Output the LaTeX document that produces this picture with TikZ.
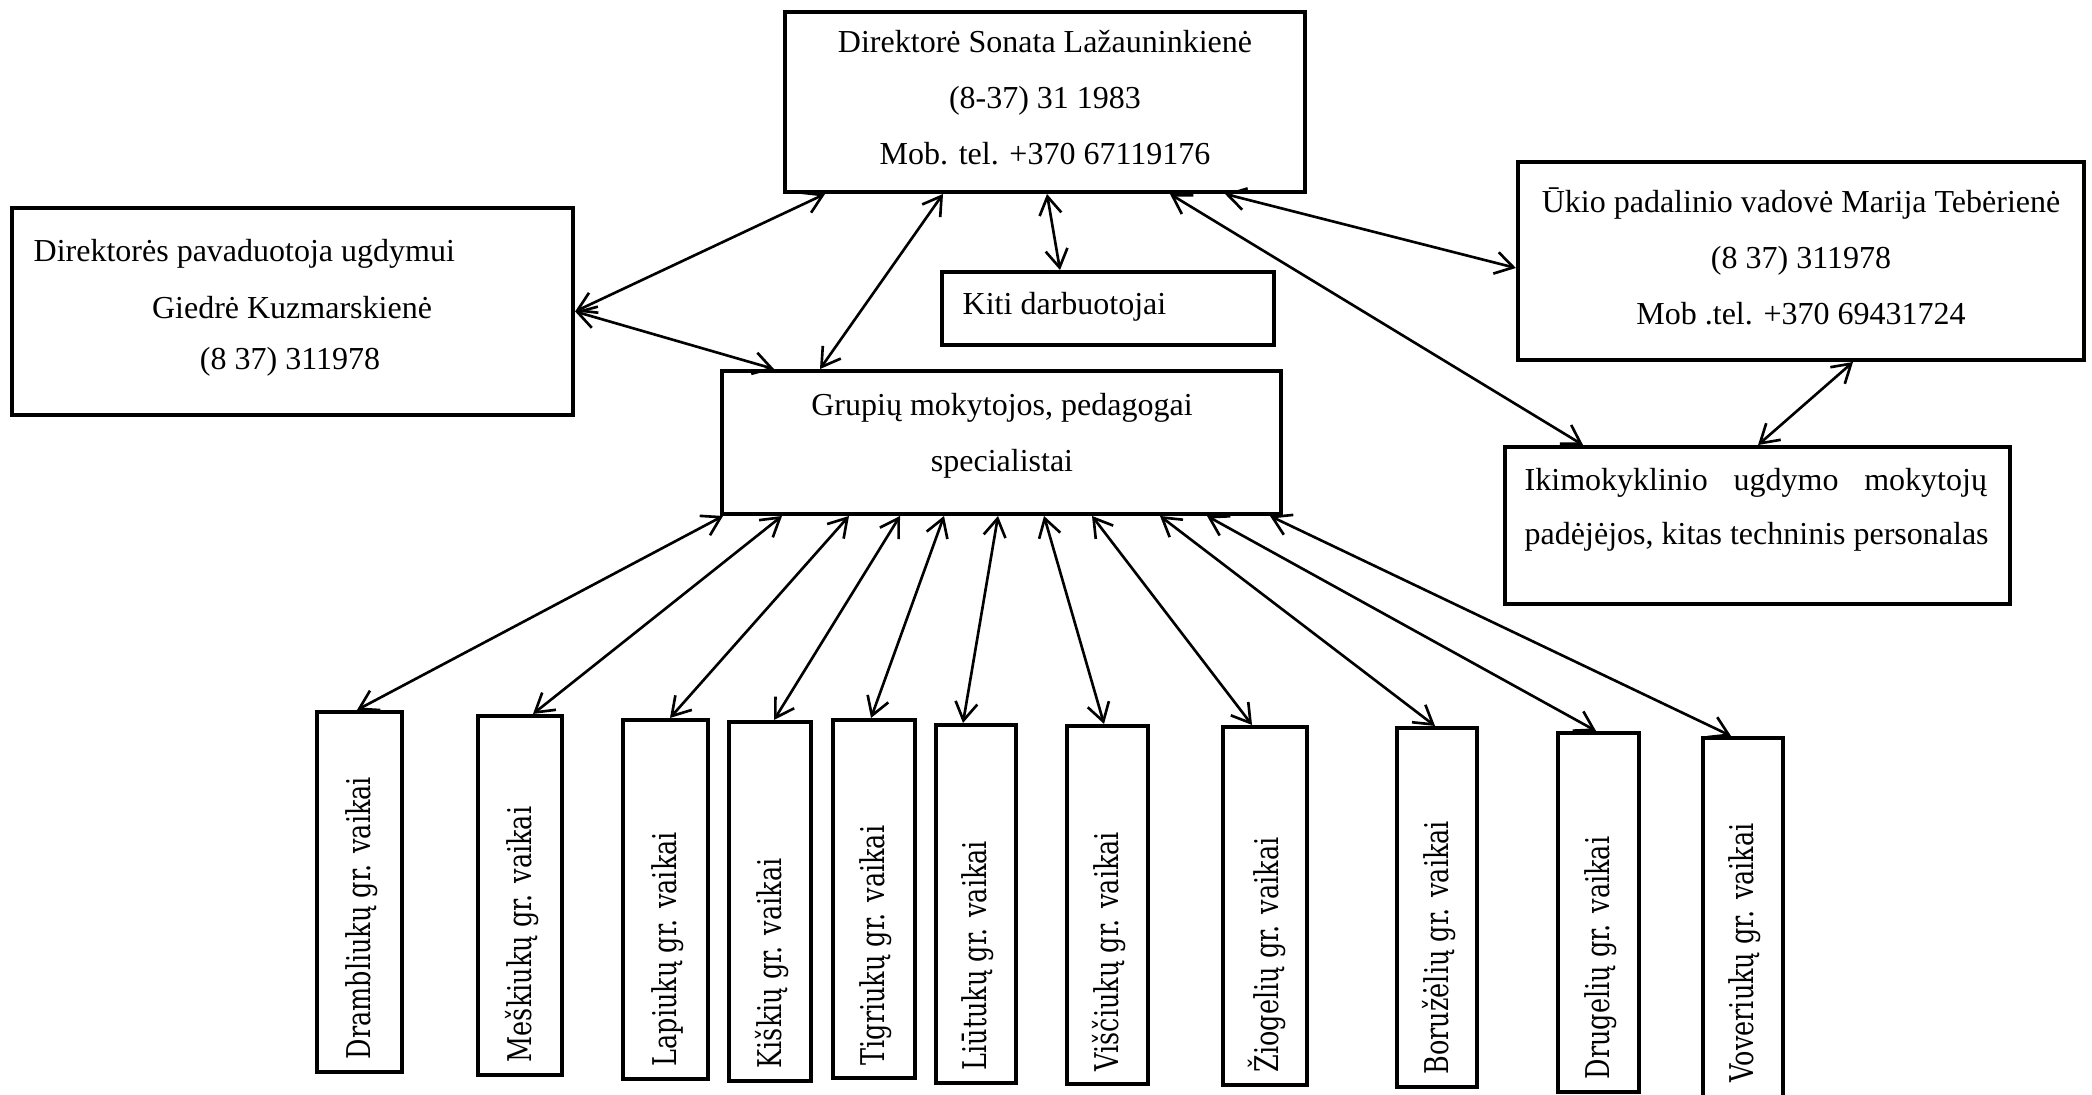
\documentclass[tikz,border=0pt]{standalone}
\usepackage{fontspec}
\setmainfont{Liberation Serif}
\newfontfamily\grfont[FakeStretch=0.78]{DejaVu Serif}
\usetikzlibrary{arrows.meta}
\begin{document}
\begin{tikzpicture}[x=0.01cm,y=-0.01cm,
  box/.style={draw,line width=1.1pt,inner sep=0pt},
  gbox/.style={draw,line width=1.1pt,inner sep=0pt,minimum width=0.82cm},
  txt/.style={inner sep=0pt,font=\fontsize{9.1}{15.9}\selectfont},
  gtxt/.style={inner sep=0pt,rotate=90,anchor=west,font=\grfont\fontsize{9.3}{10}\selectfont},
  link/.style={<->,line width=0.75pt},
  >={Straight Barb[length=1.8mm,width=2.2mm]}]
\fill[white] (0,0) rectangle (2092,1095);
\useasboundingbox (0,0) rectangle (2092,1095);

% main boxes
\node[box,minimum width=5.2cm,minimum height=1.8cm] (dir) at (1045,102) {};
\node[box,minimum width=5.61cm,minimum height=2.07cm] (dep) at (292.5,311.5) {};
\node[box,minimum width=3.32cm,minimum height=0.73cm] (kiti) at (1108,308.5) {};
\node[box,minimum width=5.59cm,minimum height=1.43cm] (grup) at (1001.5,442.5) {};
\node[box,minimum width=5.66cm,minimum height=1.98cm] (ukio) at (1801,261) {};
\node[box,minimum width=5.05cm,minimum height=1.57cm] (ikim) at (1757.5,525.5) {};

% texts
\node[txt,align=center] (dirtxt) at (1045,98) {Direktorė Sonata Lažauninkienė\\(8-37) 31 1983\\Mob. tel. +370 67119176};
\node[txt,anchor=west] (dep1) at (33,254) {Direktorės pavaduotoja ugdymui};
\node[txt] (dep2) at (292,308) {Giedrė Kuzmarskienė};
\node[txt] (dep3) at (290,362) {(8 37) 311978};
\node[txt,anchor=west] (kititxt) at (962,307) {Kiti darbuotojai};
\node[txt,align=center] (gruptxt) at (1002,436) {Grupių mokytojos, pedagogai\\specialistai};
\node[txt,align=center] (ukiotxt) at (1801,256) {Ūkio padalinio vadovė Marija Tebėrienė\\(8 37) 311978\\Mob .tel. +370 69431724};
\node[txt,anchor=west] (ikim1) at (1524,483) {\makebox[4.62cm][s]{Ikimokyklinio\hfill ugdymo\hfill mokytojų}};
\node[txt,anchor=west] (ikim2) at (1524,537) {padėjėjos, kitas techninis personalas};

% group boxes
\node[gbox,minimum width=0.85cm,minimum height=3.60cm] (g1) at (359.5,892) {};
\node[gbox,minimum width=0.84cm,minimum height=3.59cm] (g2) at (520,895.5) {};
\node[gbox,minimum width=0.85cm,minimum height=3.59cm] (g3) at (665.5,899.5) {};
\node[gbox,minimum width=0.82cm,minimum height=3.59cm] (g4) at (770,901.5) {};
\node[gbox,minimum width=0.82cm,minimum height=3.58cm] (g5) at (874,899) {};
\node[gbox,minimum width=0.80cm,minimum height=3.58cm] (g6) at (976,904) {};
\node[gbox,minimum width=0.81cm,minimum height=3.58cm] (g7) at (1107.5,905) {};
\node[gbox,minimum width=0.84cm,minimum height=3.58cm] (g8) at (1265,906) {};
\node[gbox,minimum width=0.80cm,minimum height=3.59cm] (g9) at (1437,907.5) {};
\node[gbox,minimum width=0.81cm,minimum height=3.59cm] (g10) at (1598.5,912.5) {};
\node[gbox,minimum width=0.80cm,minimum height=3.62cm] (g11) at (1743,919) {};

\node[gtxt] (t1) at (362,1060) {Drambliukų gr. vaikai};
\node[gtxt] (t2) at (522,1063) {Meškiukų gr. vaikai};
\node[gtxt] (t3) at (667.5,1067) {Lapiukų gr. vaikai};
\node[gtxt] (t4) at (772,1069) {Kiškių gr. vaikai};
\node[gtxt] (t5) at (876,1066) {Tigriukų gr. vaikai};
\node[gtxt] (t6) at (978,1071) {Liūtukų gr. vaikai};
\node[gtxt] (t7) at (1109.5,1072) {Viščiukų gr. vaikai};
\node[gtxt] (t8) at (1267,1073) {Žiogelių gr. vaikai};
\node[gtxt] (t9) at (1439,1075) {Boružėlių gr. vaikai};
\node[gtxt] (t10) at (1600.5,1080) {Drugelių gr. vaikai};
\node[gtxt] (t11) at (1745,1083) {Voveriukų gr. vaikai};

% helper coordinates (x positions / y positions of connector ends)
\coordinate (s1) at (723,0);  \coordinate (e1) at (357,0);
\coordinate (s2) at (782,0);  \coordinate (e2) at (533,0);
\coordinate (s3) at (849,0);  \coordinate (e3) at (670,0);
\coordinate (s4) at (900,0);  \coordinate (e4) at (774,0);
\coordinate (s5) at (944,0);  \coordinate (e5) at (871,0);
\coordinate (s6) at (998,0);  \coordinate (e6) at (963,0);
\coordinate (s7) at (1044,0); \coordinate (e7) at (1104,0);
\coordinate (s8) at (1092,0); \coordinate (e8) at (1252,0);
\coordinate (s9) at (1160,0); \coordinate (e9) at (1435,0);
\coordinate (s10) at (1207,0); \coordinate (e10) at (1596,0);
\coordinate (s11) at (1270,0); \coordinate (e11) at (1731,0);

\coordinate (c825) at (825,0);
\coordinate (c774) at (774,0);
\coordinate (c943) at (943,0);
\coordinate (c820) at (820,0);
\coordinate (c1047) at (1047,0);
\coordinate (c1060) at (1060,0);
\coordinate (c1170) at (1170,0);
\coordinate (c1583) at (1583,0);
\coordinate (c1225) at (1225,0);
\coordinate (y268) at (0,268);
\coordinate (c1853) at (1853,0);
\coordinate (c1758) at (1758,0);

% upper connectors
\draw[link] (dep.east) -- (dir.south -| c825);
\draw[link] (dep.east) -- (grup.north -| c774);
\draw[link] (dir.south -| c943) -- (grup.north -| c820);
\draw[link] (dir.south -| c1047) -- (kiti.north -| c1060);
\draw[link] (dir.south -| c1170) -- (ikim.north -| c1583);
\draw[link] (dir.south -| c1225) -- (ukio.west |- y268);
\draw[link] (ukio.south -| c1853) -- (ikim.north -| c1758);

% lower connectors
\foreach \i in {1,...,11}{
  \draw[link] (grup.south -| s\i) -- (g\i.north -| e\i);
}
\end{tikzpicture}
\end{document}
